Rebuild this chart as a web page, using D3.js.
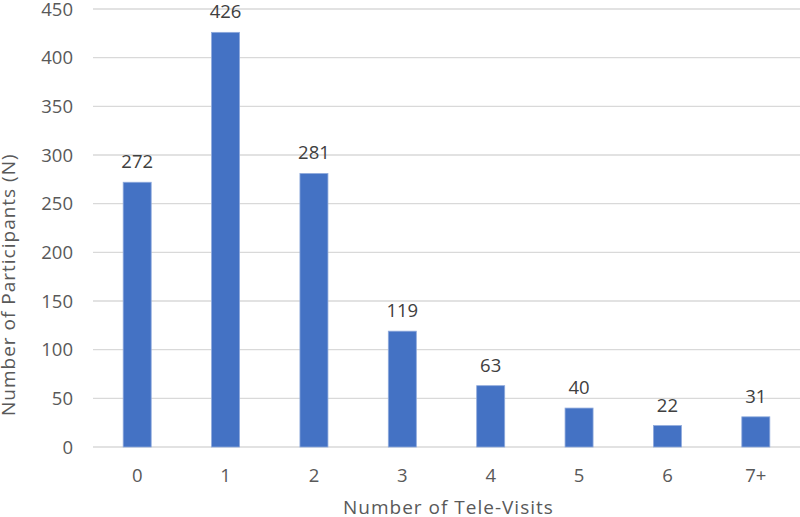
<!DOCTYPE html>
<html><head><meta charset="utf-8">
<script src="https://cdn.jsdelivr.net/npm/d3@7"></script>
<style>body{margin:0;background:#fff}svg{display:block}</style>
</head><body>
<script>
const categories = ["0","1","2","3","4","5","6","7+"];
const values = [272,426,281,119,63,40,22,31];
const yTicks = [0,50,100,150,200,250,300,350,400,450];
const xTitle = "Number of Tele-Visits";
const yTitle = "Number of Participants (N)";

const W=800,H=517;
const m={left:93,right:0,top:9,bottom:70};
const svg=d3.select("body").append("svg").attr("width",W).attr("height",H);
const font="'Open Sans', Lato, sans-serif";
const fs=18.5;
const x=d3.scaleBand().domain(categories).range([m.left,W-m.right]).paddingInner(0.683).paddingOuter(0.3415);
const y=d3.scaleLinear().domain([0,450]).range([H-m.bottom,m.top]);

svg.append("g").selectAll("line").data(yTicks).join("line")
  .attr("x1",m.left).attr("x2",W-m.right)
  .attr("y1",d=>y(d)).attr("y2",d=>y(d))
  .attr("stroke","#d9d9d9").attr("stroke-width",1.3);

svg.append("g").selectAll("text").data(yTicks).join("text")
  .attr("x",73).attr("y",d=>y(d)+6.6).attr("text-anchor","end")
  .attr("font-family",font).attr("font-size",fs).attr("fill","#595959").text(d=>d);

svg.append("g").selectAll("rect").data(values).join("rect")
  .attr("x",(d,i)=>x(categories[i])).attr("width",x.bandwidth())
  .attr("y",d=>y(d)).attr("height",d=>y(0)-y(d))
  .attr("fill","#4472c4").attr("stroke","#8faadc").attr("stroke-width",0.8);

svg.append("g").selectAll("text").data(values).join("text")
  .attr("x",(d,i)=>x(categories[i])+x.bandwidth()/2).attr("y",d=>y(d)-14)
  .attr("text-anchor","middle").attr("font-family",font).attr("font-size",fs)
  .attr("fill","#404040").text(d=>d);

svg.append("g").selectAll("text").data(categories).join("text")
  .attr("x",d=>x(d)+x.bandwidth()/2).attr("y",482)
  .attr("text-anchor","middle").attr("font-family",font).attr("font-size",fs)
  .attr("fill","#595959").text(d=>d);

svg.append("text").attr("x",343).attr("y",514).attr("text-anchor","start")
  .attr("font-family",font).attr("font-size",19).attr("letter-spacing",1)
  .attr("fill","#595959").text(xTitle);

svg.append("text").attr("transform","translate(15,416) rotate(-90)")
  .attr("text-anchor","start").attr("font-family",font).attr("font-size",19).attr("letter-spacing",1)
  .attr("fill","#595959").text(yTitle);
</script>
</body></html>
